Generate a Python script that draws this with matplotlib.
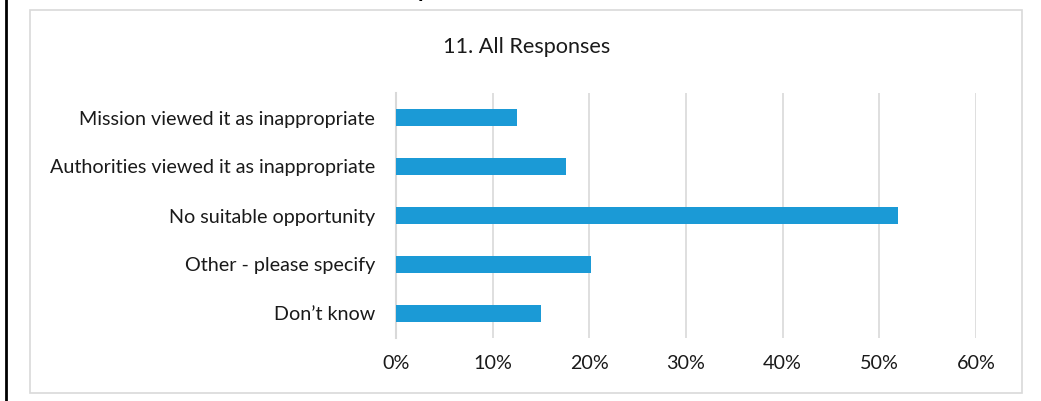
import matplotlib
matplotlib.use("Agg")
import matplotlib.pyplot as plt
from matplotlib.patches import Rectangle
from matplotlib.lines import Line2D
from matplotlib.ticker import FuncFormatter

categories = ["Mission viewed it as inappropriate",
              "Authorities viewed it as inappropriate",
              "No suitable opportunity",
              "Other - please specify",
              "Don\u2019t know"]
values = [12.5, 17.6, 51.9, 20.2, 15.0]
xticks = [0, 10, 20, 30, 40, 50, 60]
title = "11. All Responses"

W, H = 1041, 401
fig = plt.figure(figsize=(W/100, H/100), dpi=100)
plt.rcParams['font.family'] = ['Lato', 'DejaVu Sans']

# outer chart box
fig.patches.append(Rectangle((30/W, 1-393/H), (1022-30)/W, (393-10)/H,
                             transform=fig.transFigure, fill=False,
                             edgecolor='#d9d9d9', linewidth=1.2))
# black left border line
fig.lines.append(Line2D([6/W, 6/W], [0, 1], transform=fig.transFigure,
                        color='black', linewidth=2))
# fragment of cut-off heading
fig.text(424/W, 1+3/H, "p", fontsize=16, fontweight='bold', ha='center',
         va='baseline', color='black')

ax = fig.add_axes([396/W, 1-338/H, (976-396)/W, (338-93)/H])
y = list(range(len(categories)))
ax.barh(y, values, height=0.35, color='#1b9ad6', zorder=3)
ax.set_ylim(len(categories)-0.5, -0.5)
ax.set_xlim(0, 60)
ax.set_yticks(y)
ax.set_yticklabels(categories)
ax.set_xticks(xticks)
ax.xaxis.set_major_formatter(FuncFormatter(lambda v, p: f"{int(v)}%"))
ax.grid(axis='x', color='#d9d9d9', linewidth=1.2, zorder=0)
for s in ['top', 'right', 'bottom']:
    ax.spines[s].set_visible(False)
ax.spines['left'].set_color('#d9d9d9')
ax.spines['left'].set_linewidth(1.5)
ax.tick_params(axis='both', length=0, labelsize=14.2, colors='#1a1a1a')
ax.tick_params(axis='y', pad=15)
ax.tick_params(axis='x', pad=12)

fig.text(527/W, 1-47/H, title, fontsize=15.6, ha='center', va='center', color='#1a1a1a')

fig.savefig("out.png", dpi=100)
